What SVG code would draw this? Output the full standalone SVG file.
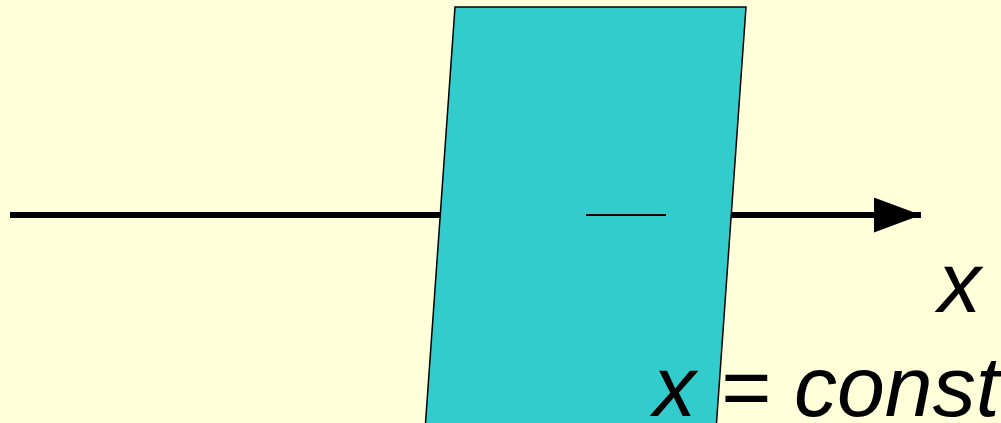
<svg xmlns="http://www.w3.org/2000/svg" width="1001" height="423" viewBox="0 0 1001 423">
  <style>
    .lbl { font-family: "Liberation Sans", Arial, sans-serif; font-style: italic; font-size: 86px; fill: #000; }
  </style>
  <defs>
    <marker id="arrow" markerUnits="userSpaceOnUse" markerWidth="48" markerHeight="36" refX="47" refY="17.5" orient="auto">
      <path d="M0,0 L47,17.5 L0,35 Z" fill="#000"/>
    </marker>
  </defs>
  <rect width="1001" height="423" fill="#FFFFD9"/>
  <g id="connectors">
    <line x1="10" y1="215" x2="921" y2="215" stroke="#000" stroke-width="6" marker-end="url(#arrow)"/>
  </g>
  <g id="plane">
    <polygon points="455,7 746,7 716,430 425,430" fill="#33CCCC" stroke="#000" stroke-width="1.5"/>
    <line x1="586" y1="215" x2="666" y2="215" stroke="#000" stroke-width="2"/>
  </g>
  <g id="labels">
    <text class="lbl" x="938" y="312">x</text>
    <text class="lbl" x="653" y="416">x = const</text>
  </g>
</svg>
